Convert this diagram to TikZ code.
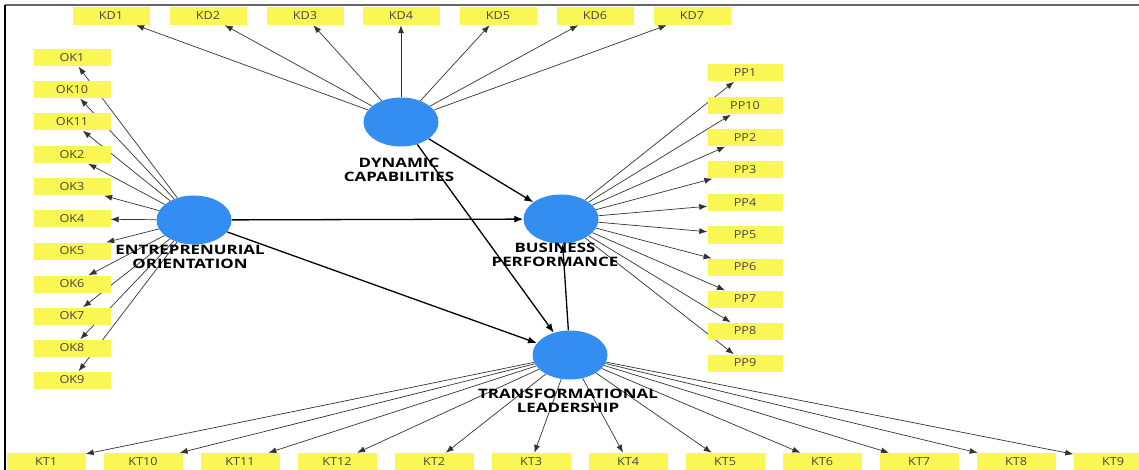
\documentclass[tikz,border=0pt]{standalone}
\usepackage{fontspec}
\usepackage{xcolor}
\usepackage{tikz}
\usetikzlibrary{shapes.geometric,arrows.meta,backgrounds}
\newfontfamily\itemfont[FakeStretch=1.15]{Open Sans}
\newfontfamily\latentfont[FakeStretch=1.3]{Open Sans}
\definecolor{plsblue}{RGB}{52,141,240}
\definecolor{plsyellow}{RGB}{250,247,85}
\definecolor{itemtext}{RGB}{70,70,70}

\begin{document}
\begin{tikzpicture}[x=1pt,y=-1pt,
    latent/.style={shape=ellipse,fill=plsblue,minimum width=75pt,minimum height=49pt,inner sep=0pt},
    item/.style={fill=plsyellow,text=itemtext,minimum width=77pt,minimum height=18pt,inner sep=0pt,font=\itemfont\fontsize{11}{12}\selectfont},
    caption/.style={align=center,text=black,font=\latentfont\bfseries\fontsize{13}{14}\selectfont},
    loadline/.style={draw=black!80,line width=0.7pt,{Latex[length=8pt,width=6pt]}-},
    pathline/.style={draw=black,line width=1.3pt,{Latex[length=9pt,width=7pt]}-}]
                    \useasboundingbox (0,0) rectangle (1139,470);

                    % constructs
                    \node[latent] (DC) at (401,122) {};
                    \node[latent] (EO) at (194,220) {};
                    \node[latent] (BP) at (561,219) {};
                    \node[latent] (TL) at (570,355) {};

                    % indicators of DC
                    \node[item] (KD1) at (111,16) {KD1};
                    \node[item] (KD2) at (208,16) {KD2};
                    \node[item] (KD3) at (305,16) {KD3};
                    \node[item] (KD4) at (401,16) {KD4};
                    \node[item] (KD5) at (498,16) {KD5};
                    \node[item] (KD6) at (595,16) {KD6};
                    \node[item] (KD7) at (692,16) {KD7};

                    % indicators of EO
                    \node[item,minimum height=17pt] (OK1) at (72,58) {OK1};
                    \node[item,minimum height=17pt] (OK10) at (72,90) {OK10};
                    \node[item,minimum height=17pt] (OK11) at (72,122) {OK11};
                    \node[item,minimum height=17pt] (OK2) at (72,155) {OK2};
                    \node[item,minimum height=17pt] (OK3) at (72,187) {OK3};
                    \node[item,minimum height=17pt] (OK4) at (72,219) {OK4};
                    \node[item,minimum height=17pt] (OK5) at (72,251) {OK5};
                    \node[item,minimum height=17pt] (OK6) at (72,284) {OK6};
                    \node[item,minimum height=17pt] (OK7) at (72,316) {OK7};
                    \node[item,minimum height=17pt] (OK8) at (72,348) {OK8};
                    \node[item,minimum height=17pt] (OK9) at (72,380) {OK9};

                    % indicators of BP
                    \node[item,minimum width=75pt,minimum height=17pt] (PP1) at (745,73) {PP1};
                    \node[item,minimum width=75pt,minimum height=17pt] (PP10) at (745,106) {PP10};
                    \node[item,minimum width=75pt,minimum height=17pt] (PP2) at (745,138) {PP2};
                    \node[item,minimum width=75pt,minimum height=17pt] (PP3) at (745,170) {PP3};
                    \node[item,minimum width=75pt,minimum height=17pt] (PP4) at (745,203) {PP4};
                    \node[item,minimum width=75pt,minimum height=17pt] (PP5) at (745,235) {PP5};
                    \node[item,minimum width=75pt,minimum height=17pt] (PP6) at (745,267) {PP6};
                    \node[item,minimum width=75pt,minimum height=17pt] (PP7) at (745,299) {PP7};
                    \node[item,minimum width=75pt,minimum height=17pt] (PP8) at (745,331) {PP8};
                    \node[item,minimum width=75pt,minimum height=17pt] (PP9) at (745,363) {PP9};

                    % indicators of TL
                    \node[item,minimum width=79pt] (KT1) at (46,462) {KT1};
                    \node[item,minimum width=79pt] (KT10) at (143,462) {KT10};
                    \node[item,minimum width=79pt] (KT11) at (240,462) {KT11};
                    \node[item,minimum width=79pt] (KT12) at (337,462) {KT12};
                    \node[item,minimum width=79pt] (KT2) at (434,462) {KT2};
                    \node[item,minimum width=79pt] (KT3) at (531,462) {KT3};
                    \node[item,minimum width=79pt] (KT4) at (628,462) {KT4};
                    \node[item,minimum width=79pt] (KT5) at (725,462) {KT5};
                    \node[item,minimum width=79pt] (KT6) at (822,462) {KT6};
                    \node[item,minimum width=79pt] (KT7) at (919,462) {KT7};
                    \node[item,minimum width=79pt] (KT8) at (1016,462) {KT8};
                    \node[item,minimum width=79pt] (KT9) at (1113,462) {KT9};

                    % construct names
                    \node[caption] (DCname) at (399,170) {DYNAMIC\\CAPABILITIES};
                    \node[caption] (EOname) at (190,257) {ENTREPRENURIAL\\ORIENTATION};
                    \node[caption] (BPname) at (555,255) {BUSINESS\\PERFORMANCE};
                    \node[caption] (TLname) at (568,401) {TRANSFORMATIONAL\\LEADERSHIP};

                    \begin{scope}[on background layer]
                    \fill[white] (0,0) rectangle (1139,470);

                    \draw[loadline] (KD1) -- (DC);
                    \draw[loadline] (KD2) -- (DC);
                    \draw[loadline] (KD3) -- (DC);
                    \draw[loadline] (KD4) -- (DC);
                    \draw[loadline] (KD5) -- (DC);
                    \draw[loadline] (KD6) -- (DC);
                    \draw[loadline] (KD7) -- (DC);

                    \draw[loadline] (OK1) -- (EO);
                    \draw[loadline] (OK10) -- (EO);
                    \draw[loadline] (OK11) -- (EO);
                    \draw[loadline] (OK2) -- (EO);
                    \draw[loadline] (OK3) -- (EO);
                    \draw[loadline] (OK4) -- (EO);
                    \draw[loadline] (OK5) -- (EO);
                    \draw[loadline] (OK6) -- (EO);
                    \draw[loadline] (OK7) -- (EO);
                    \draw[loadline] (OK8) -- (EO);
                    \draw[loadline] (OK9) -- (EO);

                    \draw[loadline] (PP1) -- (BP);
                    \draw[loadline] (PP10) -- (BP);
                    \draw[loadline] (PP2) -- (BP);
                    \draw[loadline] (PP3) -- (BP);
                    \draw[loadline] (PP4) -- (BP);
                    \draw[loadline] (PP5) -- (BP);
                    \draw[loadline] (PP6) -- (BP);
                    \draw[loadline] (PP7) -- (BP);
                    \draw[loadline] (PP8) -- (BP);
                    \draw[loadline] (PP9) -- (BP);

                    \draw[loadline] (KT1) -- (TL);
                    \draw[loadline] (KT10) -- (TL);
                    \draw[loadline] (KT11) -- (TL);
                    \draw[loadline] (KT12) -- (TL);
                    \draw[loadline] (KT2) -- (TL);
                    \draw[loadline] (KT3) -- (TL);
                    \draw[loadline] (KT4) -- (TL);
                    \draw[loadline] (KT5) -- (TL);
                    \draw[loadline] (KT6) -- (TL);
                    \draw[loadline] (KT7) -- (TL);
                    \draw[loadline] (KT8) -- (TL);
                    \draw[loadline] (KT9) -- (TL);

                    % structural paths
                    \draw[pathline] (BP) -- (EO);
                    \draw[pathline] (BP) -- (DC);
                    \draw[pathline] (BP) -- (TL);
                    \draw[pathline] (TL) -- (EO);
                    \draw[pathline] (TL) -- (DC);
                    \end{scope}

                    % frame
                    \draw[black!60,line width=2pt] (5,5.5) -- (1139,5.5);
                    \draw[black,line width=1.5pt] (5,5) -- (5,470);
                 \end{tikzpicture}
\end{document}
